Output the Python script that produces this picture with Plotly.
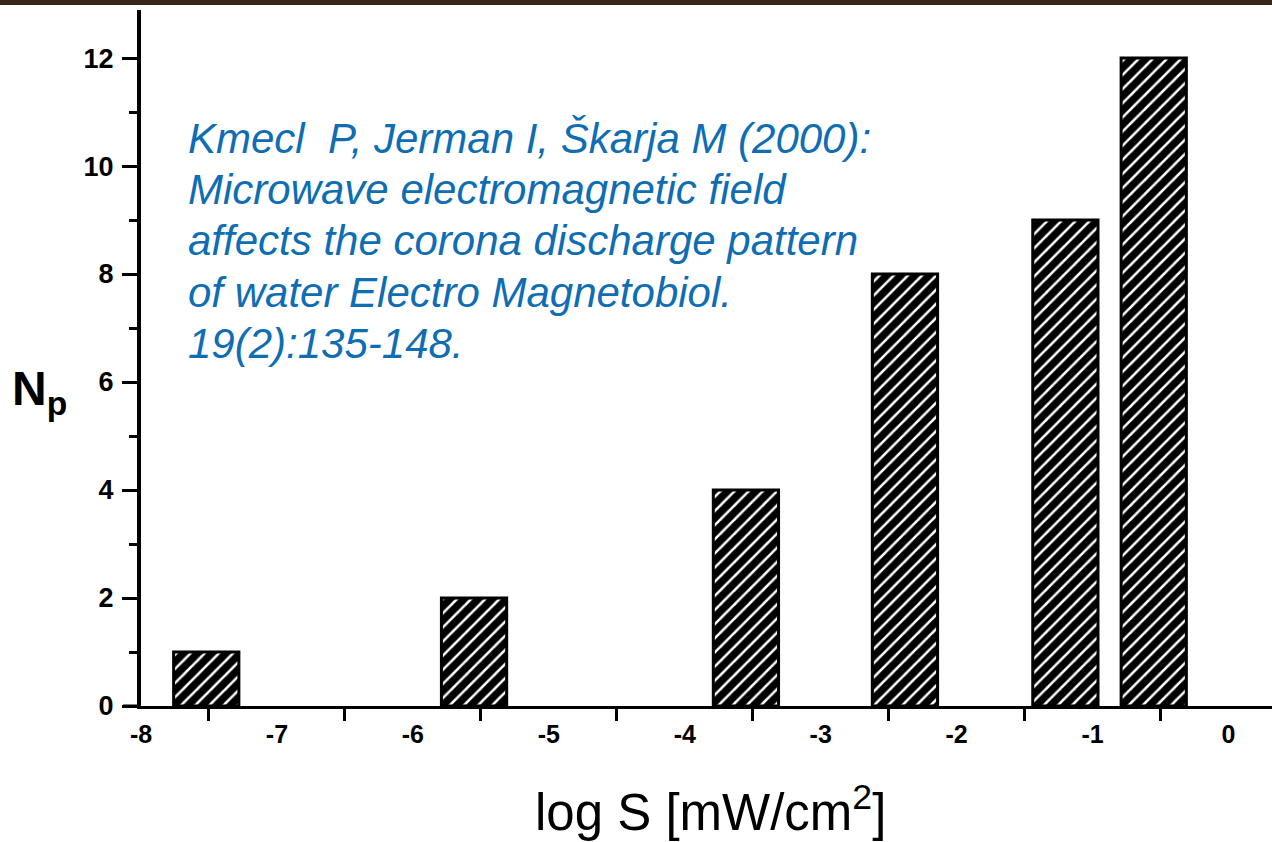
import plotly.graph_objects as go

# Data
log_s = [-7.52, -5.55, -3.55, -2.38, -1.2, -0.55]
n_p = [1, 2, 4, 8, 9, 12]
bar_width = 0.48

x_tick_vals = [-8, -7, -6, -5, -4, -3, -2, -1, 0]
x_tick_text = ["-8", "-7", "-6", "-5", "-4", "-3", "-2", "-1", "0"]
y_tick_vals = [0, 2, 4, 6, 8, 10, 12]
y_tick_text = ["0", "2", "4", "6", "8", "10", "12"]

citation_lines = [
    "Kmecl  P, Jerman I, Škarja M (2000):",
    "Microwave electromagnetic field",
    "affects the corona discharge pattern",
    "of water Electro Magnetobiol.",
    "19(2):135-148.",
]

W, H = 1272, 842
ML, MR, MT, MB = 141, 0, 10, 136
PW = W - ML - MR
PH = H - MT - MB

fig = go.Figure()
fig.add_trace(go.Bar(
    x=log_s, y=n_p, width=bar_width,
    marker=dict(
        color="black",
        line=dict(color="black", width=3),
        pattern=dict(shape="/", bgcolor="black", fgcolor="white",
                     size=10, solidity=0.25, fillmode="replace"),
    ),
    showlegend=False,
))

FONT = "Liberation Sans, Arial"

fig.update_layout(
    width=W, height=H,
    margin=dict(l=ML, r=MR, t=MT, b=MB),
    paper_bgcolor="white", plot_bgcolor="white",
    xaxis=dict(
        range=[-8, 0.32],
        tickvals=x_tick_vals, ticktext=x_tick_text,
        ticks="", showgrid=False, zeroline=False,
        showline=True, linecolor="black", linewidth=3,
        tickfont=dict(family=FONT, size=25, color="black", weight="bold"),
        ticklabelstandoff=4,
        minor=dict(tick0=-7.5, dtick=1, ticks="outside", ticklen=12,
                   tickwidth=3, tickcolor="black", showgrid=False),
    ),
    yaxis=dict(
        range=[0, 12.89],
        tickvals=y_tick_vals, ticktext=y_tick_text,
        ticks="outside", ticklen=15, tickwidth=3, tickcolor="black",
        showgrid=False, zeroline=False,
        showline=True, linecolor="black", linewidth=4,
        tickfont=dict(family=FONT, size=27, color="black", weight="bold"),
        ticklabelstandoff=3,
        minor=dict(tick0=1, dtick=2, ticks="outside", ticklen=8,
                   tickwidth=3, tickcolor="black", showgrid=False),
    ),
    font=dict(family=FONT),
)

# axis titles
fig.add_annotation(
    text="log S [mW/cm<sup>2</sup>]", xref="paper", yref="paper",
    x=(710 - ML) / PW, y=-(809 - (MT + PH)) / PH,
    xanchor="center", yanchor="middle", showarrow=False,
    font=dict(family=FONT, size=51, color="black"),
)
fig.add_annotation(
    text="<b>N<sub>p</sub></b>", xref="paper", yref="paper",
    x=(10 - ML) / PW, y=1 - (392 - MT) / PH,
    xanchor="left", yanchor="middle", showarrow=False,
    font=dict(family=FONT, size=48, color="black"),
)

# citation text
line_y = [139, 190, 241, 292, 343]
for line, py in zip(citation_lines, line_y):
    fig.add_annotation(
        text="<i>" + line + "</i>", xref="paper", yref="paper",
        x=(186 - ML) / PW, y=1 - (py - MT) / PH,
        xanchor="left", yanchor="middle", showarrow=False,
        font=dict(family=FONT, size=42, color="#0E6DB3"),
    )

# left extension of x-axis line and brown strip on top
fig.add_shape(type="line", xref="paper", yref="y",
              x0=-18 / PW, x1=0, y0=0, y1=0,
              line=dict(color="black", width=3))
fig.add_shape(type="rect", xref="paper", yref="paper",
              x0=-ML / PW, x1=1, y0=1 + (MT - 5) / PH, y1=1 + MT / PH,
              fillcolor="#3a2616", line=dict(width=0), layer="above")

fig.write_html("out.html",
               config={"displayModeBar": False},
               post_script="document.body.style.margin='0';"
                           "document.body.style.overflow='hidden';")
